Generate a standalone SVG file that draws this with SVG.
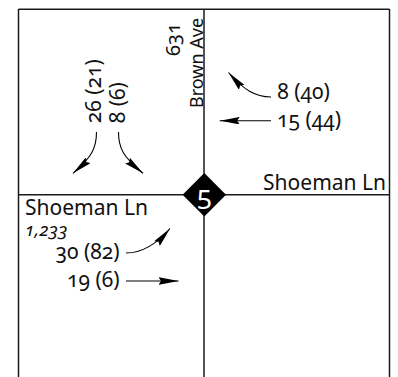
<svg xmlns="http://www.w3.org/2000/svg" width="398" height="377" viewBox="0 0 398 377">
  <style>
    .road { stroke: #1a1a1a; stroke-width: 1.5; fill: none; }
    .conn { stroke: #000; stroke-width: 1.1; fill: none; marker-end: url(#ah); }
    text { font-family: "Noto Sans", "Open Sans", sans-serif; fill: #111; font-variant-numeric: oldstyle-nums; font-feature-settings: "onum" 1; }
    .lbl { font-size: 21px; }
    .street { font-size: 21px; }
  </style>
  <defs>
    <marker id="ah" markerUnits="userSpaceOnUse" viewBox="0 0 20 7.5" markerWidth="20" markerHeight="7.5" refX="20" refY="3.75" orient="auto">
      <path d="M0,0 L20,3.75 L0,7.5 L2.5,3.75 z" fill="#000"/>
    </marker>
  </defs>

  <g id="roads">
    <line class="road" x1="18.5" y1="9.3" x2="389.5" y2="9.3"/>
    <line class="road" x1="18.5" y1="9" x2="18.5" y2="377"/>
    <line class="road" x1="389.5" y1="9" x2="389.5" y2="377"/>
    <line class="road" x1="204" y1="9" x2="204" y2="377"/>
    <line class="road" x1="18.5" y1="194.7" x2="389.5" y2="194.7"/>
  </g>

  <g id="node-5">
    <polygon points="204.3,173 226,194.7 204.3,216.4 182.6,194.7" fill="#000"/>
    <text x="204.5" y="204.5" text-anchor="middle" style="font-size:27px; fill:#fff;">5</text>
  </g>

  <g id="label-brown-ave">
    <text transform="translate(180,56) rotate(-90)" style="font-size:20px;">631</text>
    <text transform="translate(202.5,108) rotate(-90)" style="font-size:18px;">Brown Ave</text>
  </g>

  <g id="label-shoeman-east">
    <text class="street" x="386" y="190" text-anchor="end">Shoeman Ln</text>
  </g>

  <g id="label-shoeman-west">
    <text class="street" x="25" y="214.5">Shoeman Ln</text>
    <text x="25" y="236" style="font-size:18.5px; font-style:italic;">1,233</text>
  </g>

  <g id="label-sb">
    <text class="lbl" transform="translate(101,123.3) rotate(-90)">26 (21)</text>
    <text class="lbl" transform="translate(124.5,123.3) rotate(-90)">8 (6)</text>
  </g>

  <g id="label-wb">
    <text class="lbl" x="277.3" y="98.5">8 (40)</text>
    <text class="lbl" x="277" y="127">15 (44)</text>
  </g>

  <g id="label-eb">
    <text class="lbl" x="119.5" y="259" text-anchor="end">30 (82)</text>
    <text class="lbl" x="119.5" y="286.5" text-anchor="end">19 (6)</text>
  </g>

  <g id="connectors">
    <path class="conn" d="M96.5,132 C96.5,148 92,157 73,173.3"/>
    <path class="conn" d="M118.5,132 C118.5,148 123,157 143,173.3"/>
    <path class="conn" d="M271,97 C255,97 244,90 228.5,72.5"/>
    <path class="conn" d="M271,120.7 L219.7,120.7"/>
    <path class="conn" d="M126,253 C140,253 155,246 170,228.5"/>
    <path class="conn" d="M126,281 L178.5,281"/>
  </g>
</svg>
